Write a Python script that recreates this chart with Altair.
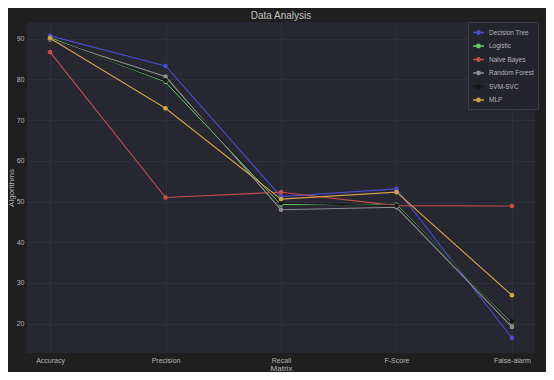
import altair as alt
import pandas as pd

metrics = ["Accuracy", "Precision", "Recall", "F-Score", "False-alarm"]
algorithms = ["Decision Tree", "Logistic", "Naive Bayes", "Random Forest", "SVM-SVC", "MLP"]
colors = ["#4b4bcc", "#66cc66", "#c44e4e", "#8c8c8c", "#151515", "#d4a04a"]

decision_tree = [90.7, 83.3, 51.2, 53.1, 16.5]
logistic = [90.2, 79.4, 49.3, 49.2, 20.3]
naive_bayes = [86.7, 51.0, 52.3, 49.0, 48.9]
random_forest = [89.8, 80.7, 48.0, 48.6, 19.2]
svm_svc = [90.0, 79.7, 49.6, 49.0, 20.5]
mlp = [90.1, 72.9, 50.6, 52.3, 27.0]

series = [decision_tree, logistic, naive_bayes, random_forest, svm_svc, mlp]
rows = []
for name, vals in zip(algorithms, series):
    for i, (m, v) in enumerate(zip(metrics, vals)):
        rows.append({"Matrix": m, "Algorithms": v, "Algo": name, "idx": i})
df = pd.DataFrame(rows)

FONT = "Liberation Sans"
TXT = "#b4b4b4"

legend_symbol = "M-1,0L-0.3,0M0.3,0L1,0M-0.3,0A0.3,0.3 0 1,1 0.3,0A0.3,0.3 0 1,1 -0.3,0"

chart = alt.Chart(df).mark_line(
    strokeWidth=1.1,
    point=alt.OverlayMarkDef(filled=True, size=22, opacity=1),
).encode(
    x=alt.X("Matrix:N", sort=metrics,
            scale=alt.Scale(padding=0.2),
            axis=alt.Axis(title="Matrix", labelAngle=0, ticks=False, domain=False,
                          labelPadding=3, titlePadding=1, gridColor="#2e2f39", grid=True)),
    y=alt.Y("Algorithms:Q",
            scale=alt.Scale(domain=[12.8, 94.1], nice=False, zero=False),
            axis=alt.Axis(title="Algorithms", values=[20, 30, 40, 50, 60, 70, 80, 90],
                          ticks=False, domain=False, labelPadding=3, titlePadding=1,
                          gridColor="#2e2f39", grid=True)),
    color=alt.Color("Algo:N",
                    scale=alt.Scale(domain=algorithms, range=colors),
                    legend=alt.Legend(title=None, orient="none", legendX=441, legendY=0,
                                      symbolType=legend_symbol, symbolSize=120,
                                      symbolStrokeWidth=1.5,
                                      labelFontSize=6.5, labelColor=TXT, labelFont=FONT,
                                      rowPadding=1.5, padding=4,
                                      fillColor="#23242c", strokeColor="#3a3b44")),
    order=alt.Order("idx:Q"),
).properties(
    width=508,
    height=331,
    padding={"left": 19, "top": 14, "right": 11, "bottom": 19},
    autosize=alt.AutoSizeParams(type="none"),
    title=alt.Title("Data Analysis", fontSize=10, color="#c0c0c0", font=FONT,
                    fontWeight="normal", offset=1),
).configure(
    background="#1f1f1f",
).configure_view(
    fill="#262730", stroke=None,
).configure_axis(
    labelFont=FONT, titleFont=FONT, labelFontSize=7, titleFontSize=8,
    labelColor=TXT, titleColor=TXT, titleFontWeight="normal",
)

chart.save("out.html", embed_options={"renderer": "svg", "actions": False})
